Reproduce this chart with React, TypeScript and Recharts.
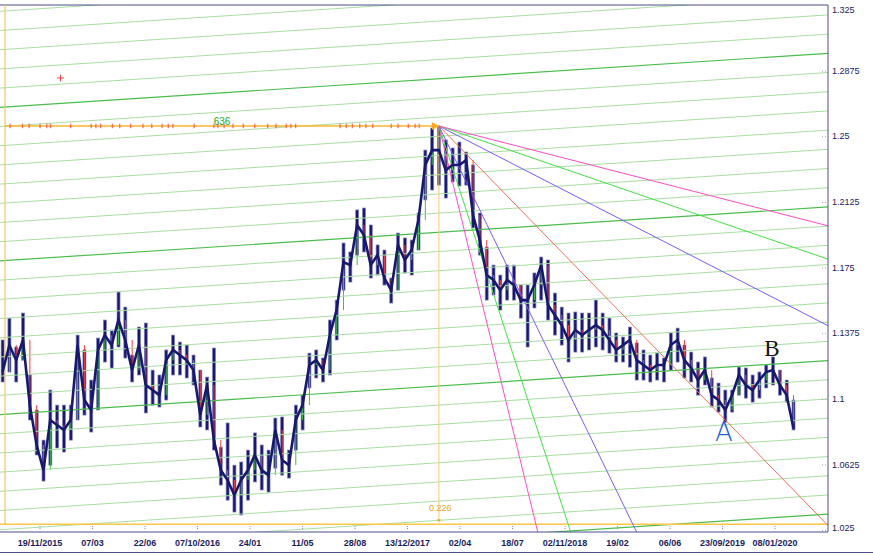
import React from 'react';
import { ComposedChart, Bar, Line, XAxis, YAxis, ReferenceLine, ReferenceDot } from 'recharts';

// x is the trading-day number counted from 19/11/2015 (77 days between labels)
const tickBars = [0, 77, 154, 231, 308, 385, 462, 539, 616, 693, 770, 847, 924, 1001, 1078];
const tickLabels = ['19/11/2015', '07/03', '22/06', '07/10/2016', '24/01', '11/05', '28/08', '13/12/2017',
  '02/04', '18/07', '02/11/2018', '19/02', '06/06', '23/09/2019', '08/01/2020'];
const priceTicks = [1.025, 1.0625, 1.1, 1.1375, 1.175, 1.2125, 1.25, 1.2875, 1.325];

// two-week blocks of the daily bars, starting at day -55
const firstBar = -55;
const barStep = 10;
const highs = [
  1.1336, 1.1461, 1.1296, 1.1490, 1.1136, 1.0936, 1.0764, 1.1050, 1.0964, 1.0964,
  1.0964, 1.1364, 1.1279, 1.1107, 1.1347, 1.1450, 1.1393, 1.1610, 1.1524, 1.1250,
  1.1410, 1.1433, 1.1164, 1.1136, 1.1279, 1.1364, 1.1324, 1.1307, 1.1250, 1.1164,
  1.1124, 1.1290, 1.0724, 1.0862, 1.0621, 1.0639, 1.0707, 1.0805, 1.0736, 1.0707,
  1.0890, 1.0896, 1.0707, 1.0964, 1.1021, 1.1261, 1.1279, 1.1233, 1.1450, 1.1564,
  1.1890, 1.1839, 1.2079, 1.2090, 1.1993, 1.1879, 1.1850, 1.1690, 1.1947, 1.1919,
  1.1907, 1.2061, 1.2421, 1.2547, 1.2553, 1.2479, 1.2433, 1.2467, 1.2410, 1.2336,
  1.2061, 1.1867, 1.1764, 1.1707, 1.1764, 1.1764, 1.1650, 1.1650, 1.1719, 1.1810,
  1.1793, 1.1604, 1.1524, 1.1490, 1.1496, 1.1490, 1.1490, 1.1564, 1.1490, 1.1461,
  1.1376, 1.1353, 1.1410, 1.1319, 1.1279, 1.1250, 1.1261, 1.1233, 1.1376, 1.1404,
  1.1307, 1.1267, 1.1210, 1.1239, 1.1119, 1.1090, 1.1050, 1.1050, 1.1181, 1.1176,
  1.1136, 1.1153, 1.1193, 1.1239, 1.1164, 1.1107, 1.0993,
];
const lows = [
  1.1096, 1.1153, 1.1096, 1.1221, 1.0879, 1.0679, 1.0530, 1.0621, 1.0719, 1.0696,
  1.0764, 1.0879, 1.0907, 1.0810, 1.0936, 1.1210, 1.1176, 1.1296, 1.1233, 1.1096,
  1.1136, 1.0919, 1.0964, 1.0953, 1.0993, 1.1136, 1.1136, 1.1119, 1.1079, 1.0839,
  1.0822, 1.0707, 1.0507, 1.0421, 1.0353, 1.0336, 1.0421, 1.0525, 1.0479, 1.0467,
  1.0604, 1.0564, 1.0547, 1.0707, 1.0822, 1.1062, 1.1119, 1.1096, 1.1136, 1.1336,
  1.1621, 1.1667, 1.1821, 1.1839, 1.1690, 1.1707, 1.1650, 1.1547, 1.1621, 1.1719,
  1.1707, 1.1850, 1.2136, 1.2193, 1.2221, 1.2147, 1.2239, 1.2216, 1.2221, 1.1976,
  1.1821, 1.1564, 1.1593, 1.1507, 1.1564, 1.1564, 1.1461, 1.1296, 1.1519, 1.1564,
  1.1450, 1.1364, 1.1307, 1.1210, 1.1267, 1.1267, 1.1279, 1.1296, 1.1279, 1.1261,
  1.1210, 1.1210, 1.1181, 1.1107, 1.1107, 1.1096, 1.1107, 1.1096, 1.1164, 1.1210,
  1.1119, 1.1096, 1.1021, 1.1079, 1.0953, 1.0924, 1.0867, 1.0924, 1.1021, 1.1004,
  1.0981, 1.1004, 1.1062, 1.1079, 1.1021, 1.0981, 1.0822,
];
const closes = [
  1.1153, 1.1307, 1.1221, 1.1336, 1.0964, 1.0736, 1.0593, 1.0879, 1.0850, 1.0822,
  1.0879, 1.1307, 1.0993, 1.0936, 1.1279, 1.1364, 1.1307, 1.1450, 1.1336, 1.1164,
  1.1307, 1.1079, 1.1050, 1.1021, 1.1221, 1.1279, 1.1250, 1.1221, 1.1164, 1.0907,
  1.1079, 1.0764, 1.0593, 1.0536, 1.0450, 1.0536, 1.0593, 1.0679, 1.0593, 1.0564,
  1.0822, 1.0650, 1.0621, 1.0879, 1.0964, 1.1193, 1.1221, 1.1164, 1.1364, 1.1507,
  1.1781, 1.1764, 1.1993, 1.1936, 1.1764, 1.1821, 1.1690, 1.1621, 1.1879, 1.1793,
  1.1850, 1.2021, 1.2336, 1.2421, 1.2421, 1.2307, 1.2336, 1.2336, 1.2364, 1.2050,
  1.1907, 1.1707, 1.1679, 1.1621, 1.1679, 1.1650, 1.1564, 1.1564, 1.1650, 1.1764,
  1.1536, 1.1479, 1.1421, 1.1336, 1.1393, 1.1364, 1.1393, 1.1421, 1.1393, 1.1336,
  1.1279, 1.1307, 1.1336, 1.1221, 1.1193, 1.1164, 1.1193, 1.1193, 1.1307, 1.1336,
  1.1221, 1.1176, 1.1107, 1.1164, 1.1021, 1.0993, 1.0936, 1.1021, 1.1136, 1.1079,
  1.1050, 1.1107, 1.1153, 1.1164, 1.1079, 1.1021, 1.0833,
];

// red marks sitting on the 636 line
const markBars = [-44, -26, -16, 0, 10, 15, 45, 75, 82, 89, 106, 117, 133, 151, 164, 179, 188, 195,
  226, 255, 261, 270, 283, 298, 315, 334, 346, 361, 368, 375, 440, 449, 458, 469, 478, 488,
  515, 525, 540, 550, 556];

// Gann fan from the top
const apexBar = 585;
const apexPrice = 1.2559;
const fanUnit = 0.0004;
const fanRatios = [4, 3, 2, 1, 1 / 2, 1 / 3, 1 / 4];
const fanColors = ['#ff4cc6', '#44e044', '#7b5cff', '#f27058', '#7b5cff', '#44e044', '#ff4cc6'];

// sloped grid
const gridBase = 1.0910;
const gridStep = 0.010971;
const gridRise = 0.03086;
const gridIdx = Array.from({ length: 30 }, (_, i) => i - 21);

const X_MIN = -58.7;
const X_MAX = 1155.7;
const Y_MIN = 1.0239;
const Y_MAX = 1.325;
const frameLeft = -51.3;
const bottomLevel = 1.0283;

const priceData = highs.map((h, i) => ({
  x: firstBar + i * barStep,
  range: [lows[i], h],
  close: closes[i],
  prev: i === 0 ? null : closes[i - 1],
}));

const AXIS = '#4d4d8c';
const TXT = '#1c1c5c';
const NAVY = '#18186e';

// hi-lo block plus the red/green close-to-close move, placed with the bar's own scale
const PriceBlock = (p: any) => {
  const { x, y, width, height, payload } = p;
  const [lo, hi] = payload.range;
  const toPx = (v: number) => y + ((hi - v) / (hi - lo)) * height;
  const cx = x + width / 2;
  return (
    <g>
      <rect x={x} y={y} width={width} height={height} fill={NAVY} stroke="#8080c0" strokeWidth={0.7} />
      {payload.prev != null && (
        <line x1={cx} x2={cx} y1={toPx(payload.prev)} y2={toPx(payload.close)}
          stroke={payload.close >= payload.prev ? '#3cc23c' : '#ee4040'} strokeWidth={1} />
      )}
    </g>
  );
};

const XTick = (props: any) => {
  const { x, y, payload } = props;
  const idx = tickBars.indexOf(payload.value);
  return (
    <g>
      <rect x={x - 0.5} y={y - 6} width={1} height={1} fill="#8888aa" />
      <rect x={x - 0.5} y={y - 4} width={1} height={1} fill="#8888aa" />
      <text x={x} y={y + 13.5} textAnchor="middle" fontSize={9} fontWeight="bold"
        fontFamily="Liberation Sans, Arial, sans-serif" fill={TXT}>{tickLabels[idx]}</text>
    </g>
  );
};

const YTick = (props: any) => {
  const { x, y, payload } = props;
  let ty = y + 3.2;
  if (payload.value >= 1.32) ty = y + 7.5;
  if (payload.value <= 1.026) ty = y + 0.5;
  return (
    <g>
      <rect x={x - 6} y={y} width={1} height={1} fill="#9a9ab8" />
      <rect x={x - 3} y={y} width={1} height={1} fill="#9a9ab8" />
      <text x={x + 4} y={ty} fontSize={9} fontFamily="Liberation Sans, Arial, sans-serif" fill={TXT}>
        {payload.value}
      </text>
    </g>
  );
};

const textShape = (value: string, style: any) => (p: any) => (
  <text x={p.cx} y={p.cy} textAnchor="middle" {...style}>{value}</text>
);

export default function App() {
  return (
    <div style={{ position: 'relative', width: 873, height: 556, background: '#fff' }}>
      <style>{'body{margin:0}'}</style>
      <ComposedChart width={873} height={556} data={priceData}
        margin={{ top: 5, right: 0, bottom: 0, left: 0 }}>
        <XAxis type="number" dataKey="x" domain={[X_MIN, X_MAX]} ticks={tickBars} allowDataOverflow
          height={24} tickSize={0} tickMargin={0} tickLine={false} interval={0}
          axisLine={{ stroke: AXIS }} tick={<XTick />} />
        <YAxis orientation="right" domain={[Y_MIN, Y_MAX]} ticks={priceTicks} allowDataOverflow
          width={45} tickSize={0} tickMargin={0} tickLine={false} interval={0}
          axisLine={{ stroke: AXIS }} tick={<YTick />} />

        {gridIdx.map((k) => {
          const y1 = gridBase - k * gridStep;
          const dark = k % 8 === 0;
          return (
            <ReferenceLine key={'g' + k} ifOverflow="hidden"
              segment={[{ x: X_MIN, y: y1 }, { x: X_MAX, y: y1 + gridRise }]}
              stroke={dark ? '#4cbd4c' : '#a8dea2'} strokeWidth={dark ? 1.2 : 1} />
          );
        })}

        <ReferenceLine y={Y_MAX} stroke={AXIS} ifOverflow="visible" />
        <ReferenceLine y={bottomLevel} stroke="#ffc545" strokeWidth={1.4} />
        <ReferenceLine ifOverflow="hidden" segment={[{ x: frameLeft, y: Y_MAX }, { x: frameLeft, y: bottomLevel }]}
          stroke="#f6c260" strokeWidth={1.2} />
        <ReferenceLine ifOverflow="hidden" segment={[{ x: apexBar, y: apexPrice }, { x: apexBar, y: 1.0312 }]}
          stroke="#f8c870" strokeWidth={1} />
        <ReferenceLine ifOverflow="hidden" segment={[{ x: frameLeft, y: apexPrice }, { x: apexBar, y: apexPrice }]}
          stroke="#ffb52e" strokeWidth={1.6} />
        {markBars.map((b) => (
          <ReferenceLine key={'m' + b} ifOverflow="hidden"
            segment={[{ x: b, y: apexPrice - 0.0013 }, { x: b, y: apexPrice + 0.0013 }]}
            stroke="#f05050" strokeWidth={1} />
        ))}

        {fanRatios.map((r, i) => (
          <ReferenceLine key={'f' + i} ifOverflow="hidden"
            segment={[{ x: apexBar, y: apexPrice }, { x: X_MAX, y: apexPrice - r * fanUnit * (X_MAX - apexBar) }]}
            stroke={fanColors[i]} strokeWidth={1} />
        ))}

        <Line dataKey="close" type="linear" stroke={NAVY} strokeWidth={2.6} dot={false} activeDot={false}
          isAnimationActive={false} />
        <Bar dataKey="range" barSize={3} isAnimationActive={false} shape={<PriceBlock />} />

        <ReferenceDot x={apexBar} y={apexPrice} ifOverflow="visible"
          shape={(p: any) => <path d={`M${p.cx - 7},${p.cy - 4}L${p.cx},${p.cy}L${p.cx - 7},${p.cy + 4}Z`} fill="#ffa820" />} />
        <ReferenceDot x={apexBar} y={1.0301} ifOverflow="visible"
          shape={(p: any) => <path d={`M${p.cx - 2},${p.cy - 2}L${p.cx + 2},${p.cy - 2}L${p.cx},${p.cy + 1}Z`} fill="#f0a030" />} />
        <ReferenceDot x={30} y={1.2833} ifOverflow="visible"
          shape={(p: any) => (
            <g stroke="#f04040" strokeWidth={1}>
              <line x1={p.cx - 3.5} y1={p.cy} x2={p.cx + 3.5} y2={p.cy} />
              <line x1={p.cx} y1={p.cy - 3.5} x2={p.cx} y2={p.cy + 3.5} />
            </g>
          )} />
        <ReferenceDot x={267} y={apexPrice} ifOverflow="visible"
          shape={textShape('636', { fill: '#22a822', fontSize: 10, dy: -1, fontFamily: 'Liberation Sans, Arial' })} />
        <ReferenceDot x={587} y={1.0376} ifOverflow="visible"
          shape={textShape('0.226', { fill: '#f0a020', fontSize: 9, dy: 3, fontFamily: 'Liberation Sans, Arial' })} />
        <ReferenceDot x={1003} y={1.081} ifOverflow="visible"
          shape={textShape('A', { fill: '#2b5fd8', fontSize: 26, dy: 9, fontWeight: 300, fontFamily: 'DejaVu Sans' })} />
        <ReferenceDot x={1073.6} y={1.129} ifOverflow="visible"
          shape={textShape('B', { fill: '#151515', fontSize: 23, dy: 8, fontFamily: 'Liberation Serif, serif' })} />
      </ComposedChart>
      <div style={{ position: 'absolute', left: 0, top: 552, width: 873, height: 1, background: AXIS }} />
    </div>
  );
}
